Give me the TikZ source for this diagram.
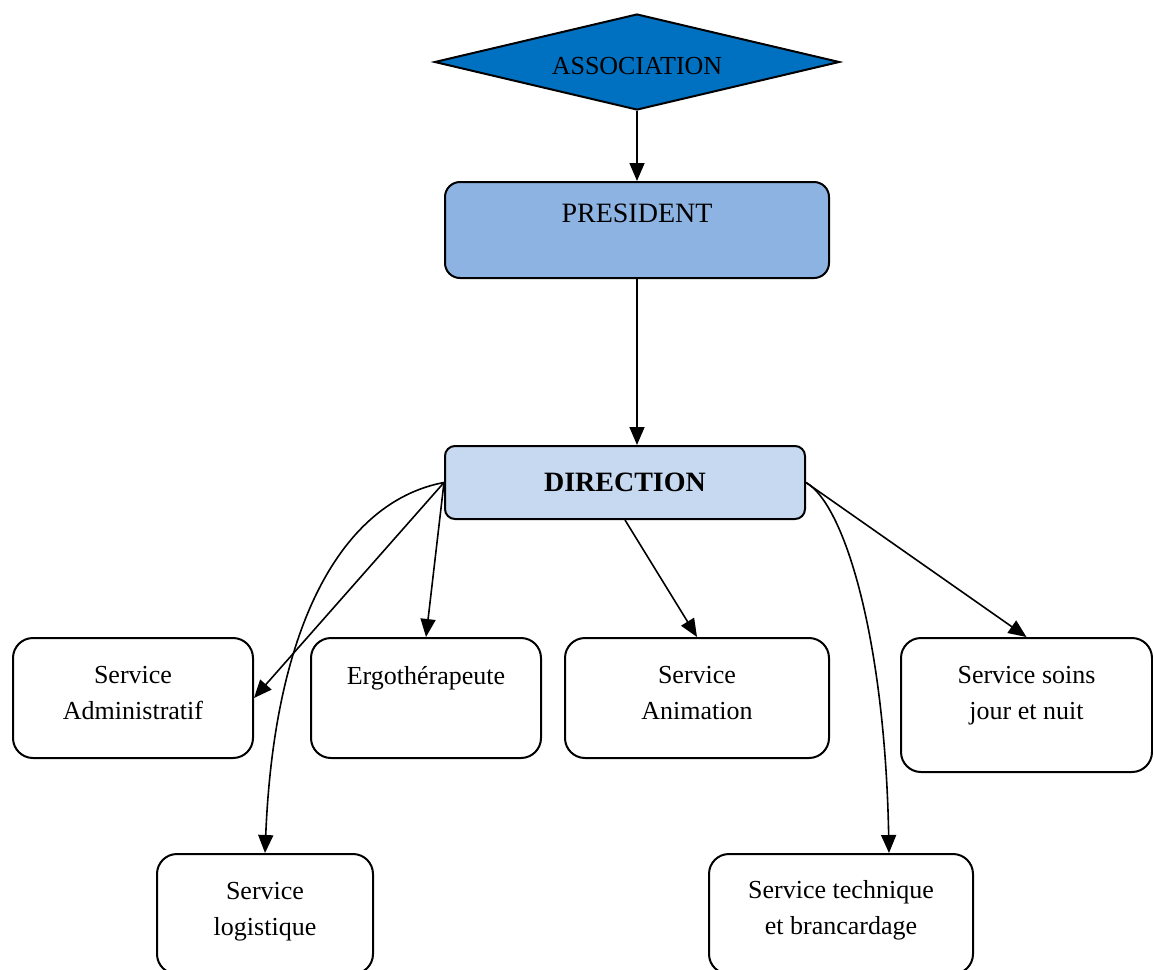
\documentclass[tikz,border=0pt]{standalone}
\usepackage{fontspec}
\setmainfont{Liberation Serif}
\usetikzlibrary{arrows.meta,shapes.geometric}

\definecolor{assoblue}{HTML}{0070C0}
\definecolor{presblue}{HTML}{8DB3E2}
\definecolor{dirblue}{HTML}{C6D9F1}

\begin{document}
\begin{tikzpicture}[
  x=0.5pt, y=-0.5pt,
  every node/.style={align=center, font=\fontsize{13}{18}\selectfont},
  box/.style={rectangle, rounded corners=10pt, draw=black, line width=1pt, inner sep=0pt, minimum height=60pt},
  boxtext/.style={anchor=north, inner sep=0pt, yshift=-14.5pt},
  decision/.style={diamond, draw=black, line width=1pt, fill=assoblue, inner sep=0pt, aspect=4.22},
  arrow/.style={-{Triangle[length=9pt, width=7.5pt]}, line width=0.8pt}
]
\useasboundingbox (0,0) rectangle (1153,970);

% top of the chart
\node[decision, minimum width=202.5pt, minimum height=48pt, text height=12pt, text depth=0pt] (asso) at (637,62) {ASSOCIATION};
\node[box, fill=presblue, rounded corners=7.5pt, minimum width=192pt, minimum height=48pt,
  label={[boxtext, font=\fontsize{14}{18}\selectfont, yshift=3pt]north:PRESIDENT}] (pres) at (637,230) {};
\node[box, fill=dirblue, rounded corners=5pt, minimum width=180pt, minimum height=36.5pt,
  font=\bfseries\fontsize{14}{18}\selectfont] (dir) at (625,482.5) {DIRECTION};

% services
\node[box, minimum width=120pt, label={[boxtext]north:Service\\Administratif}] (admin) at (133,698) {};
\node[box, minimum width=115pt, label={[boxtext]north:Ergothérapeute}] (ergo) at (426,698) {};
\node[box, minimum width=132pt, label={[boxtext]north:Service\\Animation}] (anim) at (697,698) {};
\node[box, minimum width=125.5pt, minimum height=67pt, label={[boxtext]north:Service soins\\jour et nuit}] (soins) at (1026.5,705) {};
\node[box, minimum width=108pt, label={[boxtext]north:Service\\logistique}] (logi) at (265,914) {};
\node[box, minimum width=132pt, label={[boxtext, yshift=1pt]north:Service technique\\et brancardage}] (tech) at (841,914) {};

\draw[arrow] (asso) -- (pres);
\draw[arrow] (pres.south) -- (pres.south |- dir.north);
\draw[arrow] (dir.west) -- (admin.east);
\draw[arrow] (dir.west) -- (ergo.north);
\draw[arrow] (dir.south) -- (anim.north);
\draw[arrow] (dir.east) -- (soins.north);
\draw[arrow] (dir.west) .. controls (350,500) and (275,610) .. (logi.north);
\draw[arrow] (dir.east) .. controls (845,505) and (885,640) .. ([xshift=24pt]tech.north);

\end{tikzpicture}
\end{document}
